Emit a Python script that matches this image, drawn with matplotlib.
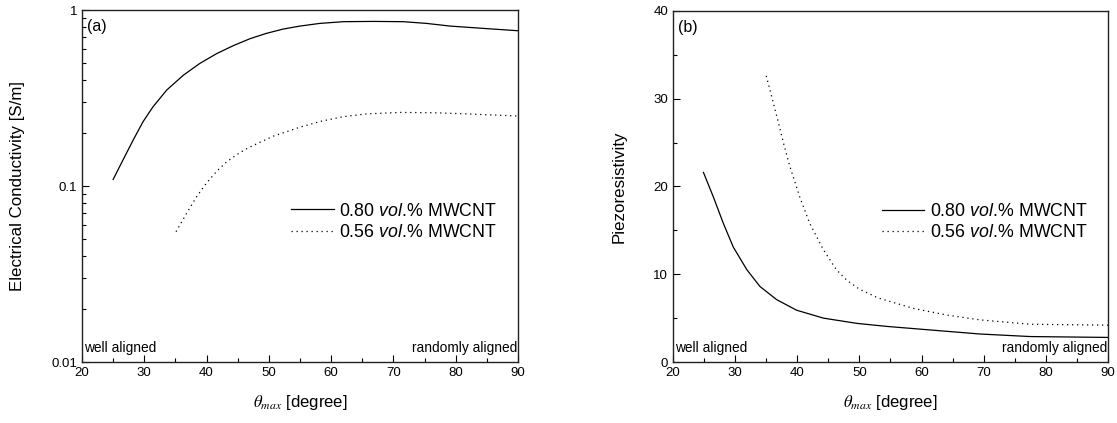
import matplotlib
matplotlib.use("Agg")
import matplotlib.pyplot as plt
from matplotlib.ticker import LogLocator, MultipleLocator, FixedFormatter, FixedLocator

plt.rcParams['font.family'] = ['Liberation Sans', 'DejaVu Sans']
plt.rcParams['mathtext.fontset'] = 'custom'
plt.rcParams['mathtext.rm'] = 'Liberation Sans'
plt.rcParams['mathtext.it'] = 'Liberation Sans:italic'

# (a) electrical conductivity [S/m] vs theta_max [degree]
theta_a80 = [25.0, 26.6, 28.2, 29.8, 31.4, 33.6, 36.3, 38.9, 41.6, 44.3, 47.0, 49.6, 52.3, 55.0,
             58.2, 62.0, 66.8, 71.6, 75.3, 79.1, 84.4, 90.0]
cond_a80 = [0.109, 0.141, 0.182, 0.232, 0.282, 0.351, 0.427, 0.497, 0.565, 0.628, 0.688, 0.737,
            0.780, 0.811, 0.840, 0.859, 0.862, 0.859, 0.840, 0.811, 0.787, 0.763]
theta_a56 = [35.1, 36.8, 38.4, 40.0, 41.6, 43.2, 45.0, 46.7, 50.7, 55.0, 58.5, 62.0, 65.7, 71.1,
             76.4, 81.8, 90.0]
cond_a56 = [0.055, 0.070, 0.087, 0.104, 0.121, 0.137, 0.152, 0.165, 0.192, 0.216, 0.234, 0.248,
            0.257, 0.262, 0.261, 0.257, 0.250]

# (b) piezoresistivity vs theta_max [degree]
theta_b80 = [24.9, 26.5, 28.1, 29.7, 31.9, 34.0, 36.7, 39.9, 44.2, 49.6, 54.5, 61.4, 69.4,
             77.5, 90.0]
piezo_b80 = [21.6, 18.8, 15.8, 13.1, 10.5, 8.6, 7.1, 5.9, 5.0, 4.4, 4.05, 3.65, 3.19, 2.9, 2.8]
theta_b56 = [35.0, 35.9, 36.7, 37.8, 38.8, 40.4, 42.0, 44.2, 46.3, 48.0, 50.0, 53.0, 58.7,
             64.0, 69.4, 77.5, 90.0]
piezo_b56 = [32.6, 30.2, 28.0, 24.9, 22.3, 18.8, 15.8, 12.8, 10.5, 9.3, 8.3, 7.3, 6.1,
             5.36, 4.8, 4.3, 4.2]

labels = ["0.80 $\\it{vol.}\\!$% MWCNT", "0.56 $\\it{vol.}\\!$% MWCNT"]

fig = plt.figure(figsize=(11.17, 4.23), dpi=100)
ax1 = fig.add_axes([0.0734, 0.1442, 0.3903, 0.832])
ax2 = fig.add_axes([0.6025, 0.1442, 0.3894, 0.830])

dot = (0, (1, 3))
ax1.plot(theta_a80, cond_a80, color='black', lw=0.9, label=labels[0])
ax1.plot(theta_a56, cond_a56, color='black', lw=0.9, linestyle=dot, label=labels[1])
ax1.set_yscale('log')
ax1.set_ylim(0.01, 1)
ax1.yaxis.set_major_locator(FixedLocator([0.01, 0.1, 1]))
ax1.yaxis.set_major_formatter(FixedFormatter(['0.01', '0.1', '1']))
ax1.yaxis.set_minor_locator(LogLocator(base=10, subs=range(2, 10)))
ax1.set_ylabel("Electrical Conductivity [S/m]", fontsize=12.2, labelpad=19)
ax1.text(0.012, 0.975, "(a)", transform=ax1.transAxes, fontsize=11.5, va='top', ha='left')

ax2.plot(theta_b80, piezo_b80, color='black', lw=0.9, label=labels[0])
ax2.plot(theta_b56, piezo_b56, color='black', lw=0.9, linestyle=dot, label=labels[1])
ax2.set_ylim(0, 40)
ax2.yaxis.set_major_locator(MultipleLocator(10))
ax2.yaxis.set_minor_locator(MultipleLocator(5))
ax2.set_ylabel("Piezoresistivity", fontsize=12.2, labelpad=19)
ax2.text(0.012, 0.975, "(b)", transform=ax2.transAxes, fontsize=11.5, va='top', ha='left')

for ax in (ax1, ax2):
    ax.set_xlim(20, 90)
    ax.xaxis.set_major_locator(MultipleLocator(10))
    ax.xaxis.set_minor_locator(MultipleLocator(5))
    ax.tick_params(which='both', direction='in', labelsize=9.5, width=0.8, top=False, right=False)
    ax.tick_params(which='major', length=5)
    ax.tick_params(which='minor', length=3)
    for s in ax.spines.values():
        s.set_linewidth(1.0)
        s.set_color('#222222')
    ax.set_xlabel(r"$\theta_{max}$ [degree]", fontsize=12, labelpad=10, math_fontfamily='stix')
    ax.text(0.005, 0.02, "well aligned", transform=ax.transAxes, fontsize=9.9, va='bottom', ha='left')
    ax.text(0.998, 0.02, "randomly aligned", transform=ax.transAxes, fontsize=9.9, va='bottom', ha='right')
    ax.legend(loc='center left', bbox_to_anchor=(0.48, 0.398), frameon=False, fontsize=12.8,
              handlelength=2.4, handletextpad=0.3, labelspacing=0.25, borderpad=0, borderaxespad=0)

fig.savefig("out.png", dpi=100)
